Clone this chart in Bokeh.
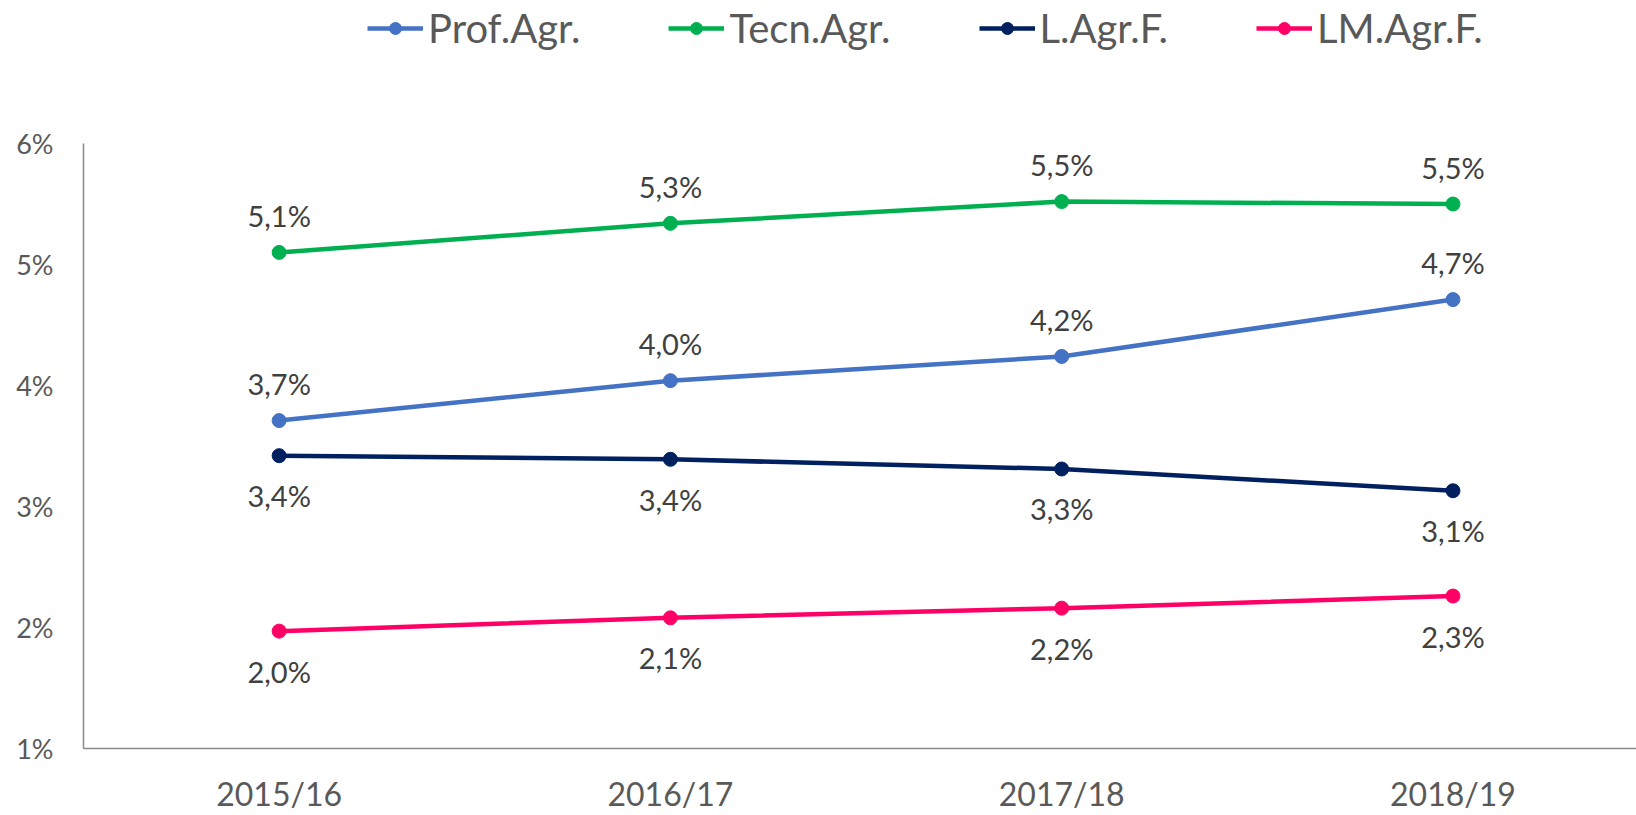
from bokeh.plotting import figure
from bokeh.models import FixedTicker, Legend, LegendItem, ColumnDataSource
from bokeh.embed import file_html
from bokeh.resources import INLINE
from bokeh.core.properties import value

years = ["2015/16", "2016/17", "2017/18", "2018/19"]
prof_agr = [3.71, 4.04, 4.24, 4.71]
tecn_agr = [5.10, 5.34, 5.52, 5.50]
l_agr_f = [3.42, 3.39, 3.31, 3.13]
lm_agr_f = [1.97, 2.08, 2.16, 2.26]
series_names = ["Prof.Agr.", "Tecn.Agr.", "L.Agr.F.", "LM.Agr.F."]
series_colors = ["#4472C4", "#00B050", "#002060", "#FF0066"]
label_above = [True, True, False, False]
y_ticks = [1, 2, 3, 4, 5, 6]

FONT = "Lato"

# frame: top at 0, bottom at ~748 px; 121 px per 1%
p = figure(width=1636, height=815,
           x_range=(-0.5, 3.469), y_range=(1, 1 + 748 / 121),
           min_border_left=83, min_border_right=0, min_border_top=0, min_border_bottom=67,
           output_backend="svg", toolbar_location=None)
p.outline_line_color = None
p.xgrid.visible = False
p.ygrid.visible = False
p.background_fill_color = "white"
p.border_fill_color = "white"

xs = list(range(len(years)))
items = []
for vals, name, col, above in zip([prof_agr, tecn_agr, l_agr_f, lm_agr_f],
                                  series_names, series_colors, label_above):
    src = ColumnDataSource(dict(x=xs, y=vals,
                                lab=[("%.1f" % v).replace(".", ",") + "%" for v in vals]))
    r1 = p.line("x", "y", source=src, line_color=col, line_width=4.5)
    r2 = p.scatter("x", "y", source=src, size=14, fill_color=col, line_color=col)
    p.text("x", "y", text="lab", source=src, text_align="center", text_baseline="middle",
           y_offset=-37 if above else 40, text_font=value(FONT), text_font_size="29px",
           text_color="#404040")
    items.append(LegendItem(label=name, renderers=[r1, r2]))

legend = Legend(items=items, orientation="horizontal", location=(284, 696),
                glyph_width=56, glyph_height=30, label_standoff=5, spacing=88,
                padding=0, margin=0, border_line_color=None, background_fill_alpha=0,
                label_text_font=FONT, label_text_font_size="40px", label_text_color="#595959",
                label_height=40)
p.add_layout(legend, "center")

p.xaxis.ticker = FixedTicker(ticks=xs)
p.xaxis.major_label_overrides = {i: y for i, y in enumerate(years)}
p.xaxis.major_tick_line_color = None
p.xaxis.minor_tick_line_color = None
p.xaxis.major_tick_out = 0
p.xaxis.major_label_standoff = 25
p.xaxis.major_label_text_font = FONT
p.xaxis.major_label_text_font_size = "32px"
p.xaxis.major_label_text_color = "#595959"
p.xaxis.axis_line_color = "#898989"
p.xaxis.axis_line_width = 1.5

p.yaxis.ticker = FixedTicker(ticks=y_ticks)
p.yaxis.major_label_overrides = {t: "%d%%" % t for t in y_ticks}
p.yaxis.bounds = (1, 6)
p.yaxis.major_tick_line_color = None
p.yaxis.minor_tick_line_color = None
p.yaxis.major_tick_out = 0
p.yaxis.major_label_standoff = 30
p.yaxis.major_label_text_font = FONT
p.yaxis.major_label_text_font_size = "27px"
p.yaxis.major_label_text_color = "#595959"
p.yaxis.axis_line_color = "#898989"
p.yaxis.axis_line_width = 1.5

open("out.html", "w").write(file_html(p, INLINE))
